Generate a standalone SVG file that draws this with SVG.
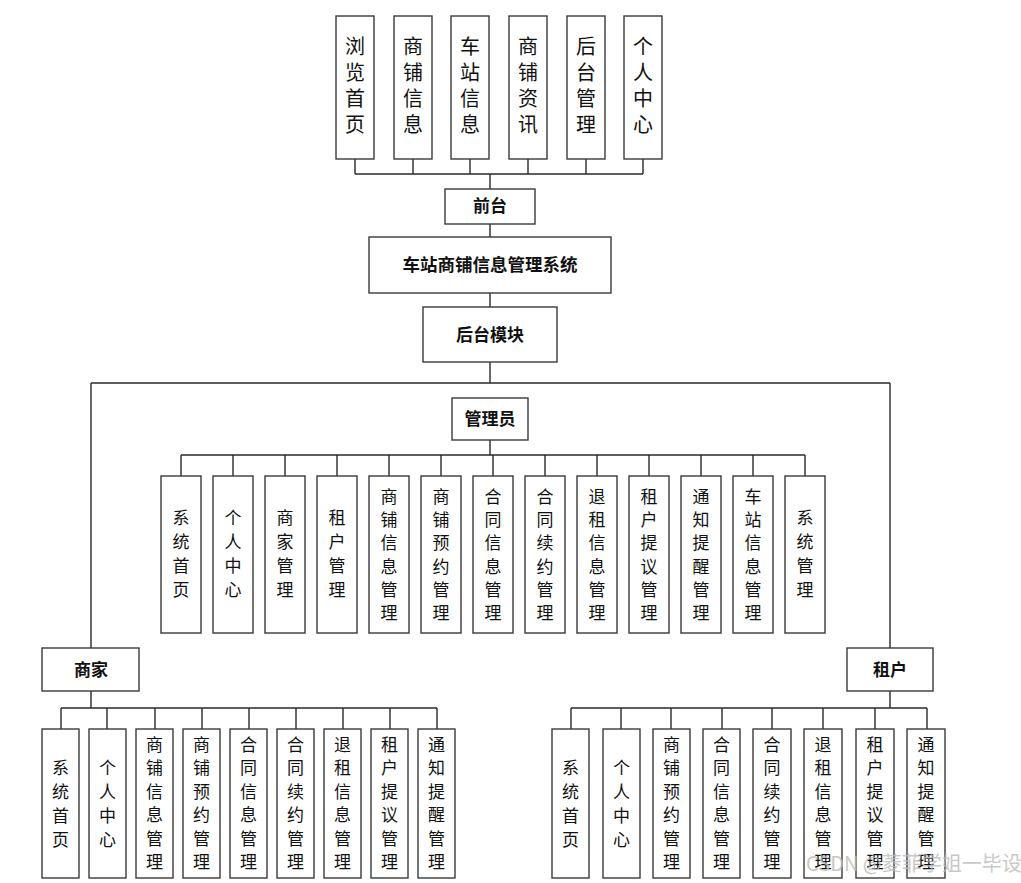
<svg xmlns="http://www.w3.org/2000/svg" width="1021" height="883" viewBox="0 0 1021 883">
<style>
.b{fill:#fff;stroke:#3a3a3a;stroke-width:1.4}
.t{font-family:"Noto Sans CJK SC","Noto Sans",sans-serif;fill:#111;text-anchor:middle}
.v{font-size:17px}
.vt{font-size:20px}
.h{font-size:17px;font-weight:bold}
.c{fill:none;stroke:#2a2a2a;stroke-width:1.4}
.w{font-family:"Noto Sans CJK SC","Noto Sans",sans-serif;font-size:20px;fill:#bbb;opacity:0.8}
</style>
<rect width="1021" height="883" fill="#fff"/>
<g id="connectors" class="c">
<path d="M355 159V174M413 159V174M470 159V174M528 159V174M586 159V174M643 159V174M355 174H643M490 174V189"/>
<path d="M490 224V237M490 293V307M490 362V383M91 383H890M91 383V648M890 383V648"/>
<path d="M490 440V455M181 455H805M181 455V476M233 455V476M285 455V476M337 455V476M389 455V476M441 455V476M493 455V476M545 455V476M597 455V476M649 455V476M701 455V476M753 455V476M805 455V476"/>
<path d="M91 691V708M61 708H437M61 708V729M107 708V729M155 708V729M202 708V729M249 708V729M296 708V729M343 708V729M390 708V729M437 708V729"/>
<path d="M890 691V708M571 708H927M571 708V729M621 708V729M671 708V729M722 708V729M772 708V729M823 708V729M875 708V729M927 708V729"/>
</g>
<g id="top-nodes">
<g id="n-liulan"><rect class="b" x="336" y="16" width="38" height="143"/><text class="t vt"><tspan x="355" y="54">浏</tspan><tspan x="355" y="80">览</tspan><tspan x="355" y="106">首</tspan><tspan x="355" y="132">页</tspan></text></g>
<g id="n-shangpu"><rect class="b" x="394" y="16" width="38" height="143"/><text class="t vt"><tspan x="413" y="54">商</tspan><tspan x="413" y="80">铺</tspan><tspan x="413" y="106">信</tspan><tspan x="413" y="132">息</tspan></text></g>
<g id="n-chezhan"><rect class="b" x="451" y="16" width="38" height="143"/><text class="t vt"><tspan x="470" y="54">车</tspan><tspan x="470" y="80">站</tspan><tspan x="470" y="106">信</tspan><tspan x="470" y="132">息</tspan></text></g>
<g id="n-zixun"><rect class="b" x="509" y="16" width="38" height="143"/><text class="t vt"><tspan x="528" y="54">商</tspan><tspan x="528" y="80">铺</tspan><tspan x="528" y="106">资</tspan><tspan x="528" y="132">讯</tspan></text></g>
<g id="n-houtai"><rect class="b" x="567" y="16" width="38" height="143"/><text class="t vt"><tspan x="586" y="54">后</tspan><tspan x="586" y="80">台</tspan><tspan x="586" y="106">管</tspan><tspan x="586" y="132">理</tspan></text></g>
<g id="n-geren"><rect class="b" x="624" y="16" width="38" height="143"/><text class="t vt"><tspan x="643" y="54">个</tspan><tspan x="643" y="80">人</tspan><tspan x="643" y="106">中</tspan><tspan x="643" y="132">心</tspan></text></g>
</g>
<g id="qiantai"><rect class="b" x="445" y="189" width="90" height="35"/><text class="t h" x="490" y="212">前台</text></g>
<g id="system"><rect class="b" x="369" y="237" width="242" height="56"/><text class="t h" x="490" y="271" style="font-size:17.5px">车站商铺信息管理系统</text></g>
<g id="houtaimokuai"><rect class="b" x="423" y="307" width="134" height="55"/><text class="t h" x="490" y="341">后台模块</text></g>
<g id="admin"><rect class="b" x="452" y="398" width="76" height="42"/><text class="t h" x="490" y="425">管理员</text></g>
<g id="admin-children" class="t v">
<g id="a1"><rect class="b" x="161" y="476" width="40" height="157"/><text><tspan x="181" y="524">系</tspan><tspan x="181" y="548">统</tspan><tspan x="181" y="572">首</tspan><tspan x="181" y="596">页</tspan></text></g>
<g id="a2"><rect class="b" x="213" y="476" width="40" height="157"/><text><tspan x="233" y="524">个</tspan><tspan x="233" y="548">人</tspan><tspan x="233" y="572">中</tspan><tspan x="233" y="596">心</tspan></text></g>
<g id="a3"><rect class="b" x="265" y="476" width="40" height="157"/><text><tspan x="285" y="524">商</tspan><tspan x="285" y="548">家</tspan><tspan x="285" y="572">管</tspan><tspan x="285" y="596">理</tspan></text></g>
<g id="a4"><rect class="b" x="317" y="476" width="40" height="157"/><text><tspan x="337" y="524">租</tspan><tspan x="337" y="548">户</tspan><tspan x="337" y="572">管</tspan><tspan x="337" y="596">理</tspan></text></g>
<g id="a5"><rect class="b" x="369" y="476" width="40" height="157"/><text><tspan x="389" y="503">商</tspan><tspan x="389" y="526">铺</tspan><tspan x="389" y="549">信</tspan><tspan x="389" y="573">息</tspan><tspan x="389" y="596">管</tspan><tspan x="389" y="619">理</tspan></text></g>
<g id="a6"><rect class="b" x="421" y="476" width="40" height="157"/><text><tspan x="441" y="503">商</tspan><tspan x="441" y="526">铺</tspan><tspan x="441" y="549">预</tspan><tspan x="441" y="573">约</tspan><tspan x="441" y="596">管</tspan><tspan x="441" y="619">理</tspan></text></g>
<g id="a7"><rect class="b" x="473" y="476" width="40" height="157"/><text><tspan x="493" y="503">合</tspan><tspan x="493" y="526">同</tspan><tspan x="493" y="549">信</tspan><tspan x="493" y="573">息</tspan><tspan x="493" y="596">管</tspan><tspan x="493" y="619">理</tspan></text></g>
<g id="a8"><rect class="b" x="525" y="476" width="40" height="157"/><text><tspan x="545" y="503">合</tspan><tspan x="545" y="526">同</tspan><tspan x="545" y="549">续</tspan><tspan x="545" y="573">约</tspan><tspan x="545" y="596">管</tspan><tspan x="545" y="619">理</tspan></text></g>
<g id="a9"><rect class="b" x="577" y="476" width="40" height="157"/><text><tspan x="597" y="503">退</tspan><tspan x="597" y="526">租</tspan><tspan x="597" y="549">信</tspan><tspan x="597" y="573">息</tspan><tspan x="597" y="596">管</tspan><tspan x="597" y="619">理</tspan></text></g>
<g id="a10"><rect class="b" x="629" y="476" width="40" height="157"/><text><tspan x="649" y="503">租</tspan><tspan x="649" y="526">户</tspan><tspan x="649" y="549">提</tspan><tspan x="649" y="573">议</tspan><tspan x="649" y="596">管</tspan><tspan x="649" y="619">理</tspan></text></g>
<g id="a11"><rect class="b" x="681" y="476" width="40" height="157"/><text><tspan x="701" y="503">通</tspan><tspan x="701" y="526">知</tspan><tspan x="701" y="549">提</tspan><tspan x="701" y="573">醒</tspan><tspan x="701" y="596">管</tspan><tspan x="701" y="619">理</tspan></text></g>
<g id="a12"><rect class="b" x="733" y="476" width="40" height="157"/><text><tspan x="753" y="503">车</tspan><tspan x="753" y="526">站</tspan><tspan x="753" y="549">信</tspan><tspan x="753" y="573">息</tspan><tspan x="753" y="596">管</tspan><tspan x="753" y="619">理</tspan></text></g>
<g id="a13"><rect class="b" x="785" y="476" width="40" height="157"/><text><tspan x="805" y="524">系</tspan><tspan x="805" y="548">统</tspan><tspan x="805" y="572">管</tspan><tspan x="805" y="596">理</tspan></text></g>
</g>
<g id="shangjia"><rect class="b" x="42" y="648" width="97" height="43"/><text class="t h" x="91" y="676">商家</text></g>
<g id="zuhu"><rect class="b" x="847" y="648" width="86" height="43"/><text class="t h" x="890" y="676">租户</text></g>
<g id="shangjia-children" class="t v">
<g id="s1"><rect class="b" x="42" y="729" width="37" height="149"/><text><tspan x="60.5" y="774">系</tspan><tspan x="60.5" y="798">统</tspan><tspan x="60.5" y="822">首</tspan><tspan x="60.5" y="846">页</tspan></text></g>
<g id="s2"><rect class="b" x="89" y="729" width="37" height="149"/><text><tspan x="107.5" y="774">个</tspan><tspan x="107.5" y="798">人</tspan><tspan x="107.5" y="822">中</tspan><tspan x="107.5" y="846">心</tspan></text></g>
<g id="s3"><rect class="b" x="136" y="729" width="37" height="149"/><text><tspan x="154.5" y="751">商</tspan><tspan x="154.5" y="774">铺</tspan><tspan x="154.5" y="798">信</tspan><tspan x="154.5" y="821">息</tspan><tspan x="154.5" y="845">管</tspan><tspan x="154.5" y="868">理</tspan></text></g>
<g id="s4"><rect class="b" x="183" y="729" width="37" height="149"/><text><tspan x="201.5" y="751">商</tspan><tspan x="201.5" y="774">铺</tspan><tspan x="201.5" y="798">预</tspan><tspan x="201.5" y="821">约</tspan><tspan x="201.5" y="845">管</tspan><tspan x="201.5" y="868">理</tspan></text></g>
<g id="s5"><rect class="b" x="230" y="729" width="37" height="149"/><text><tspan x="248.5" y="751">合</tspan><tspan x="248.5" y="774">同</tspan><tspan x="248.5" y="798">信</tspan><tspan x="248.5" y="821">息</tspan><tspan x="248.5" y="845">管</tspan><tspan x="248.5" y="868">理</tspan></text></g>
<g id="s6"><rect class="b" x="277" y="729" width="37" height="149"/><text><tspan x="295.5" y="751">合</tspan><tspan x="295.5" y="774">同</tspan><tspan x="295.5" y="798">续</tspan><tspan x="295.5" y="821">约</tspan><tspan x="295.5" y="845">管</tspan><tspan x="295.5" y="868">理</tspan></text></g>
<g id="s7"><rect class="b" x="324" y="729" width="37" height="149"/><text><tspan x="342.5" y="751">退</tspan><tspan x="342.5" y="774">租</tspan><tspan x="342.5" y="798">信</tspan><tspan x="342.5" y="821">息</tspan><tspan x="342.5" y="845">管</tspan><tspan x="342.5" y="868">理</tspan></text></g>
<g id="s8"><rect class="b" x="371" y="729" width="37" height="149"/><text><tspan x="389.5" y="751">租</tspan><tspan x="389.5" y="774">户</tspan><tspan x="389.5" y="798">提</tspan><tspan x="389.5" y="821">议</tspan><tspan x="389.5" y="845">管</tspan><tspan x="389.5" y="868">理</tspan></text></g>
<g id="s9"><rect class="b" x="418" y="729" width="37" height="149"/><text><tspan x="436.5" y="751">通</tspan><tspan x="436.5" y="774">知</tspan><tspan x="436.5" y="798">提</tspan><tspan x="436.5" y="821">醒</tspan><tspan x="436.5" y="845">管</tspan><tspan x="436.5" y="868">理</tspan></text></g>
</g>
<g id="zuhu-children" class="t v">
<g id="z1"><rect class="b" x="552" y="729" width="37" height="149"/><text><tspan x="570.5" y="774">系</tspan><tspan x="570.5" y="798">统</tspan><tspan x="570.5" y="822">首</tspan><tspan x="570.5" y="846">页</tspan></text></g>
<g id="z2"><rect class="b" x="603" y="729" width="37" height="149"/><text><tspan x="621.5" y="774">个</tspan><tspan x="621.5" y="798">人</tspan><tspan x="621.5" y="822">中</tspan><tspan x="621.5" y="846">心</tspan></text></g>
<g id="z3"><rect class="b" x="653" y="729" width="37" height="149"/><text><tspan x="671.5" y="751">商</tspan><tspan x="671.5" y="774">铺</tspan><tspan x="671.5" y="798">预</tspan><tspan x="671.5" y="821">约</tspan><tspan x="671.5" y="845">管</tspan><tspan x="671.5" y="868">理</tspan></text></g>
<g id="z4"><rect class="b" x="703" y="729" width="37" height="149"/><text><tspan x="721.5" y="751">合</tspan><tspan x="721.5" y="774">同</tspan><tspan x="721.5" y="798">信</tspan><tspan x="721.5" y="821">息</tspan><tspan x="721.5" y="845">管</tspan><tspan x="721.5" y="868">理</tspan></text></g>
<g id="z5"><rect class="b" x="753" y="729" width="38" height="149"/><text><tspan x="772" y="751">合</tspan><tspan x="772" y="774">同</tspan><tspan x="772" y="798">续</tspan><tspan x="772" y="821">约</tspan><tspan x="772" y="845">管</tspan><tspan x="772" y="868">理</tspan></text></g>
<g id="z6"><rect class="b" x="804" y="729" width="38" height="149"/><text><tspan x="823" y="751">退</tspan><tspan x="823" y="774">租</tspan><tspan x="823" y="798">信</tspan><tspan x="823" y="821">息</tspan><tspan x="823" y="845">管</tspan><tspan x="823" y="868">理</tspan></text></g>
<g id="z7"><rect class="b" x="856" y="729" width="38" height="149"/><text><tspan x="875" y="751">租</tspan><tspan x="875" y="774">户</tspan><tspan x="875" y="798">提</tspan><tspan x="875" y="821">议</tspan><tspan x="875" y="845">管</tspan><tspan x="875" y="868">理</tspan></text></g>
<g id="z8"><rect class="b" x="907" y="729" width="38" height="149"/><text><tspan x="926" y="751">通</tspan><tspan x="926" y="774">知</tspan><tspan x="926" y="798">提</tspan><tspan x="926" y="821">醒</tspan><tspan x="926" y="845">管</tspan><tspan x="926" y="868">理</tspan></text></g>
</g>
<text class="w" x="806" y="871">CSDN @菱菲学姐一毕设</text>
</svg>
